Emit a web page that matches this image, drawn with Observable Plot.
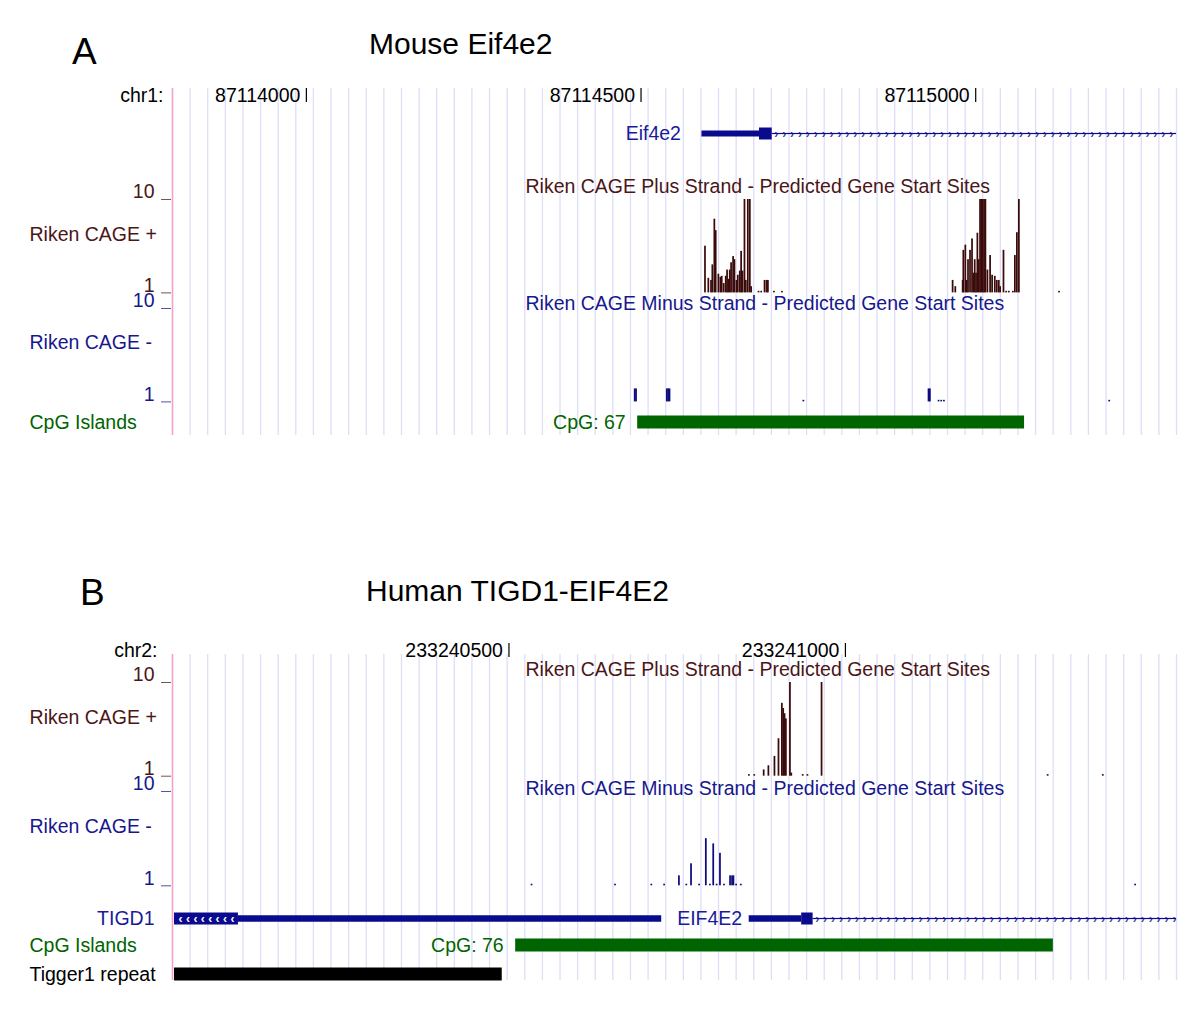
<!DOCTYPE html>
<html>
<head>
<meta charset="utf-8">
<script src="https://cdn.jsdelivr.net/npm/d3@7"></script>
<script src="https://cdn.jsdelivr.net/npm/@observablehq/plot@0.6"></script>
<style>
  html, body { margin: 0; padding: 0; background: #fff; }
  #fig { position: relative; width: 1200px; height: 1026px; overflow: hidden; background: #fff;
         font-family: "Liberation Sans", Arial, Helvetica, sans-serif; }
  .ttl { position: absolute; line-height: 1; white-space: nowrap; color: #000; }
</style>
</head>
<body>
<div id="fig">
  <div class="ttl" style="left:72px; top:33px; font-size:37px;">A</div>
  <div class="ttl" style="left:369px; top:29px; font-size:30px;">Mouse Eif4e2</div>
  <div class="ttl" style="left:80px; top:574px; font-size:37px;">B</div>
  <div class="ttl" style="left:366px; top:576px; font-size:30px;">Human TIGD1-EIF4E2</div>
</div>
<script>
// ---------------- DATA ----------------
// Panel A: mouse chr1 window
const mouseChrom = "chr1:";
const mouseWindow = [87113800, 87115300];
const mouseRulerTicks = [87114000, 87114500, 87115000];
const plusTitle = "Riken CAGE Plus Strand - Predicted Gene Start Sites";
const minusTitle = "Riken CAGE Minus Strand - Predicted Gene Start Sites";

const mousePlusPos = [87114595, 87114600, 87114604, 87114606, 87114609, 87114611, 87114615, 87114618, 87114620, 87114623,
  87114626, 87114628, 87114630, 87114632, 87114634, 87114637, 87114639, 87114642, 87114644, 87114647,
  87114649, 87114651, 87114654, 87114656, 87114659, 87114662, 87114664, 87114675, 87114679, 87114684,
  87114687, 87114689, 87114698, 87114710,
  87114965, 87114969, 87114980, 87114981, 87114984, 87114986, 87114988, 87114991, 87114994, 87114996,
  87114998, 87115000, 87115002, 87115004, 87115006, 87115008, 87115010, 87115012, 87115014, 87115017,
  87115021, 87115024, 87115028, 87115031, 87115034, 87115036, 87115041, 87115045, 87115049, 87115055,
  87115058, 87115061, 87115064, 87115124];
const mousePlusVal = [5.5, 2.4, 2.2, 3.7, 8.1, 7.0, 2.8, 2.5, 2.6, 1.9,
  2.6, 3.2, 2.3, 3.2, 3.9, 4.5, 4.2, 2.2, 2.7, 3.1,
  5.0, 3.1, 10, 2.2, 10, 10, 1.6, 1.15, 1.15, 2.2,
  2.2, 2.2, 1.15, 1.15,
  2.2, 1.6, 2.2, 5.1, 5.6, 2.2, 4.2, 5.1, 6.2, 2.9,
  4.2, 2.9, 6.75, 4.2, 10, 10, 10, 10, 10, 3.2,
  4.6, 2.7, 2.6, 2.2, 2.2, 1.6, 5.1, 1.15, 1.15, 1.15,
  4.6, 6.8, 10, 1.15];

const mouseMinusPos = [87114490, 87114492, 87114538, 87114540, 87114542, 87114742, 87114929, 87114931,
  87114944, 87114948, 87114952, 87115199];
const mouseMinusVal = [2.25, 2.25, 2.25, 2.25, 2.25, 1.15, 2.25, 2.25, 1.15, 1.15, 1.15, 1.15];

const mouseGeneName = "Eif4e2";
const mouseGeneUTR = [87114591, 87114677];
const mouseGeneCDS = [87114677, 87114696];
const mouseGeneIntron = [87114696, 87115300];

const mouseCpG = [87114495, 87115073];
const mouseCpGLabel = "CpG: 67";

// Panel B: human chr2 window
const humanChrom = "chr2:";
const humanWindow = [233240000, 233241492];
const humanRulerTicks = [233240500, 233241000];

const humanPlusPos = [233240856, 233240864, 233240878, 233240885, 233240894, 233240900, 233240905, 233240907,
  233240909, 233240911, 233240917, 233240919, 233240936, 233240943, 233240964, 233241300, 233241382];
const humanPlusVal = [1.15, 1.15, 1.6, 2.0, 2.9, 4.6, 8.0, 7.5, 7.0, 6.5, 10, 1.3, 1.15, 1.15, 10, 1.15, 1.15];

const humanMinusPos = [233240533, 233240657, 233240711, 233240730, 233240752, 233240763, 233240770, 233240782,
  233240792, 233240798, 233240803, 233240808, 233240813, 233240819, 233240828, 233240831, 233240833,
  233240837, 233240844, 233241430];
const humanMinusVal = [1.15, 1.15, 1.15, 1.15, 1.95, 1.15, 3.1, 1.15, 5.5, 1.15, 5.0, 1.15, 4.1, 1.15,
  1.95, 1.95, 1.95, 1.15, 1.15, 1.15];

const tigd1Name = "TIGD1";
const tigd1CDS = [233240003, 233240098];
const tigd1UTR = [233240098, 233240727];
const eif4e2Name = "EIF4E2";
const eif4e2UTR = [233240857, 233240935];
const eif4e2CDS = [233240935, 233240952];
const eif4e2Intron = [233240952, 233241492];

const humanCpG = [233240510, 233241309];
const humanCpGLabel = "CpG: 76";
const tiggerRepeat = [233240003, 233240490];

// ---------------- STYLE ----------------
const FONT = "'Liberation Sans', Arial, Helvetica, sans-serif";
const FS = 19.5;
const BROWN = "#3b0b0b", BROWN_TXT = "#4a1616";
const NAVY = "#0c0c7e", NAVY_TXT = "#17178e";
const GENE = "#0a0a8f", GENE_TXT = "#1a1a9a";
const GREEN = "#006400";
const GRID = "#dedef8", PINK = "#f2a2c8";
const LABEL_DX = 29 - 172;
const TITLE_DX = 525 - 172;
const BAR_BP = 2.6;

const fig = document.getElementById("fig");

function addPlot(top, height, o) {
  const svg = Plot.plot({
    width: 1200, height,
    marginLeft: 172, marginRight: 24,
    marginTop: o.mt ?? 0, marginBottom: o.mb ?? 0,
    x: {domain: o.domain, axis: null},
    y: o.y ?? {axis: null},
    style: {background: "transparent", fontFamily: FONT, fontSize: FS + "px", overflow: "visible"},
    marks: o.marks
  });
  svg.style.position = "absolute";
  svg.style.left = "0px";
  svg.style.top = top + "px";
  svg.style.maxWidth = "none";
  fig.appendChild(svg);
}

function gridPlot(top, bottom, domain) {
  const n = 57, step = (domain[1] - domain[0]) / n;
  const lines = d3.range(1, n + 1).map(i => domain[0] + i * step);
  addPlot(top, bottom - top, {domain, marks: [
    Plot.ruleX(lines, {stroke: GRID, strokeWidth: 1.3}),
    Plot.ruleX([domain[0]], {stroke: PINK, strokeWidth: 1.6})
  ]});
}

function ruler(top, domain, chrom, ticks, chromDx) {
  addPlot(top, 22, {domain, marks: [
    Plot.text([chrom], {frameAnchor: "left", dx: chromDx, textAnchor: "end", fontSize: FS, fill: "#000"}),
    Plot.text(ticks, {x: d => d, text: d => String(d), textAnchor: "end", dx: -6, fontSize: FS, fill: "#000"}),
    Plot.ruleX(ticks, {stroke: "#000", strokeWidth: 1.2, insetTop: 4, insetBottom: 4})
  ]});
}

function wiggle({top10, top1, pos, val, color, textColor, title, titleDy, name, nameDy, domain}) {
  const mt = 22, mb = 3;
  const data = pos.map((p, i) => ({p, v: val[i]}));
  addPlot(top10 - mt, (top1 - top10) + mt + mb, {mt, mb, domain,
    y: {domain: [1, 10], axis: null},
    marks: [
      Plot.rect(data, {x1: d => d.p, x2: d => d.p + BAR_BP, y1: 1, y2: d => d.v, fill: color}),
      Plot.axisY([1, 10], {tickSize: 10, tickFormat: () => "", stroke: textColor, strokeOpacity: 0.75, label: null, dx: -1}),
      Plot.text([1, 10], {y: d => d, text: d => String(d), frameAnchor: "left", dx: -18, dy: -7.5,
        textAnchor: "end", fill: textColor, fontSize: FS}),
      Plot.text([title], {frameAnchor: "top-left", lineAnchor: "middle", textAnchor: "start",
        dx: TITLE_DX, dy: titleDy, fill: textColor, fontSize: FS}),
      Plot.text([name], {frameAnchor: "left", textAnchor: "start", dx: LABEL_DX, dy: nameDy, fill: textColor, fontSize: FS})
    ]});
}

function segRect(seg, h, total, fill) {
  const inset = (total - h) / 2;
  return Plot.rect([seg], {x1: d => d[0], x2: d => d[1], insetTop: inset, insetBottom: inset, fill});
}

// ---------------- PANEL A ----------------
gridPlot(88, 435, mouseWindow);
ruler(83.5, mouseWindow, mouseChrom, mouseRulerTicks, -9);

addPlot(120, 27, {domain: mouseWindow, marks: [
  segRect(mouseGeneUTR, 6, 27, GENE),
  segRect(mouseGeneCDS, 12, 27, GENE),
  segRect(mouseGeneIntron, 1.2, 27, GENE),
  Plot.text(d3.range(mouseGeneIntron[0] + 6, mouseGeneIntron[1], 11.8), {x: d => d, text: () => "›",
    fill: GENE, fillOpacity: 0.8, fontSize: 12, fontWeight: "bold"}),
  Plot.text([mouseGeneName], {x: mouseGeneUTR[0], dx: -21, textAnchor: "end", fill: GENE_TXT, fontSize: FS})
]});

wiggle({top10: 199.3, top1: 292.7, pos: mousePlusPos, val: mousePlusVal, color: BROWN, textColor: BROWN_TXT,
  title: plusTitle, titleDy: -12.3, name: "Riken CAGE +", nameDy: -11, domain: mouseWindow});
wiggle({top10: 308.3, top1: 401.7, pos: mouseMinusPos, val: mouseMinusVal, color: NAVY, textColor: NAVY_TXT,
  title: minusTitle, titleDy: -4.3, name: "Riken CAGE -", nameDy: -12, domain: mouseWindow});

addPlot(410, 24, {domain: mouseWindow, marks: [
  segRect(mouseCpG, 13, 24, GREEN),
  Plot.text([mouseCpGLabel], {x: mouseCpG[0], dx: -12, textAnchor: "end", fill: GREEN, fontSize: FS}),
  Plot.text(["CpG Islands"], {frameAnchor: "left", textAnchor: "start", dx: LABEL_DX, fill: GREEN, fontSize: FS})
]});

// ---------------- PANEL B ----------------
gridPlot(654, 980, humanWindow);
ruler(639, humanWindow, humanChrom, humanRulerTicks, -15);

wiggle({top10: 682, top1: 775.7, pos: humanPlusPos, val: humanPlusVal, color: BROWN, textColor: BROWN_TXT,
  title: plusTitle, titleDy: -12.5, name: "Riken CAGE +", nameDy: -11.9, domain: humanWindow});
wiggle({top10: 790.7, top1: 885, pos: humanMinusPos, val: humanMinusVal, color: NAVY, textColor: NAVY_TXT,
  title: minusTitle, titleDy: -2.7, name: "Riken CAGE -", nameDy: -11.9, domain: humanWindow});

addPlot(905, 27, {domain: humanWindow, marks: [
  segRect(tigd1CDS, 12, 27, GENE),
  segRect(tigd1UTR, 6.5, 27, GENE),
  Plot.text(d3.range(0, 8).map(i => tigd1CDS[0] + 9 + i * 11), {x: d => d, text: () => "‹",
    fill: "#fff", fontSize: 12, fontWeight: "bold"}),
  Plot.text([tigd1Name], {x: tigd1CDS[0], dx: -20, textAnchor: "end", fill: GENE_TXT, fontSize: FS}),
  segRect(eif4e2UTR, 6.5, 27, GENE),
  segRect(eif4e2CDS, 12, 27, GENE),
  segRect(eif4e2Intron, 1.2, 27, GENE),
  Plot.text(d3.range(eif4e2Intron[0] + 6, eif4e2Intron[1], 11.8), {x: d => d, text: () => "›",
    fill: GENE, fillOpacity: 0.8, fontSize: 12, fontWeight: "bold"}),
  Plot.text([eif4e2Name], {x: eif4e2UTR[0], dx: -7, textAnchor: "end", fill: GENE_TXT, fontSize: FS})
]});

addPlot(933, 24, {domain: humanWindow, marks: [
  segRect(humanCpG, 13, 24, GREEN),
  Plot.text([humanCpGLabel], {x: humanCpG[0], dx: -12, textAnchor: "end", fill: GREEN, fontSize: FS}),
  Plot.text(["CpG Islands"], {frameAnchor: "left", textAnchor: "start", dx: LABEL_DX, fill: GREEN, fontSize: FS})
]});

addPlot(961.5, 24, {domain: humanWindow, marks: [
  segRect(tiggerRepeat, 13, 24, "#000"),
  Plot.text(["Tigger1 repeat"], {frameAnchor: "left", textAnchor: "start", dx: LABEL_DX, fill: "#000", fontSize: FS})
]});
</script>
</body>
</html>
